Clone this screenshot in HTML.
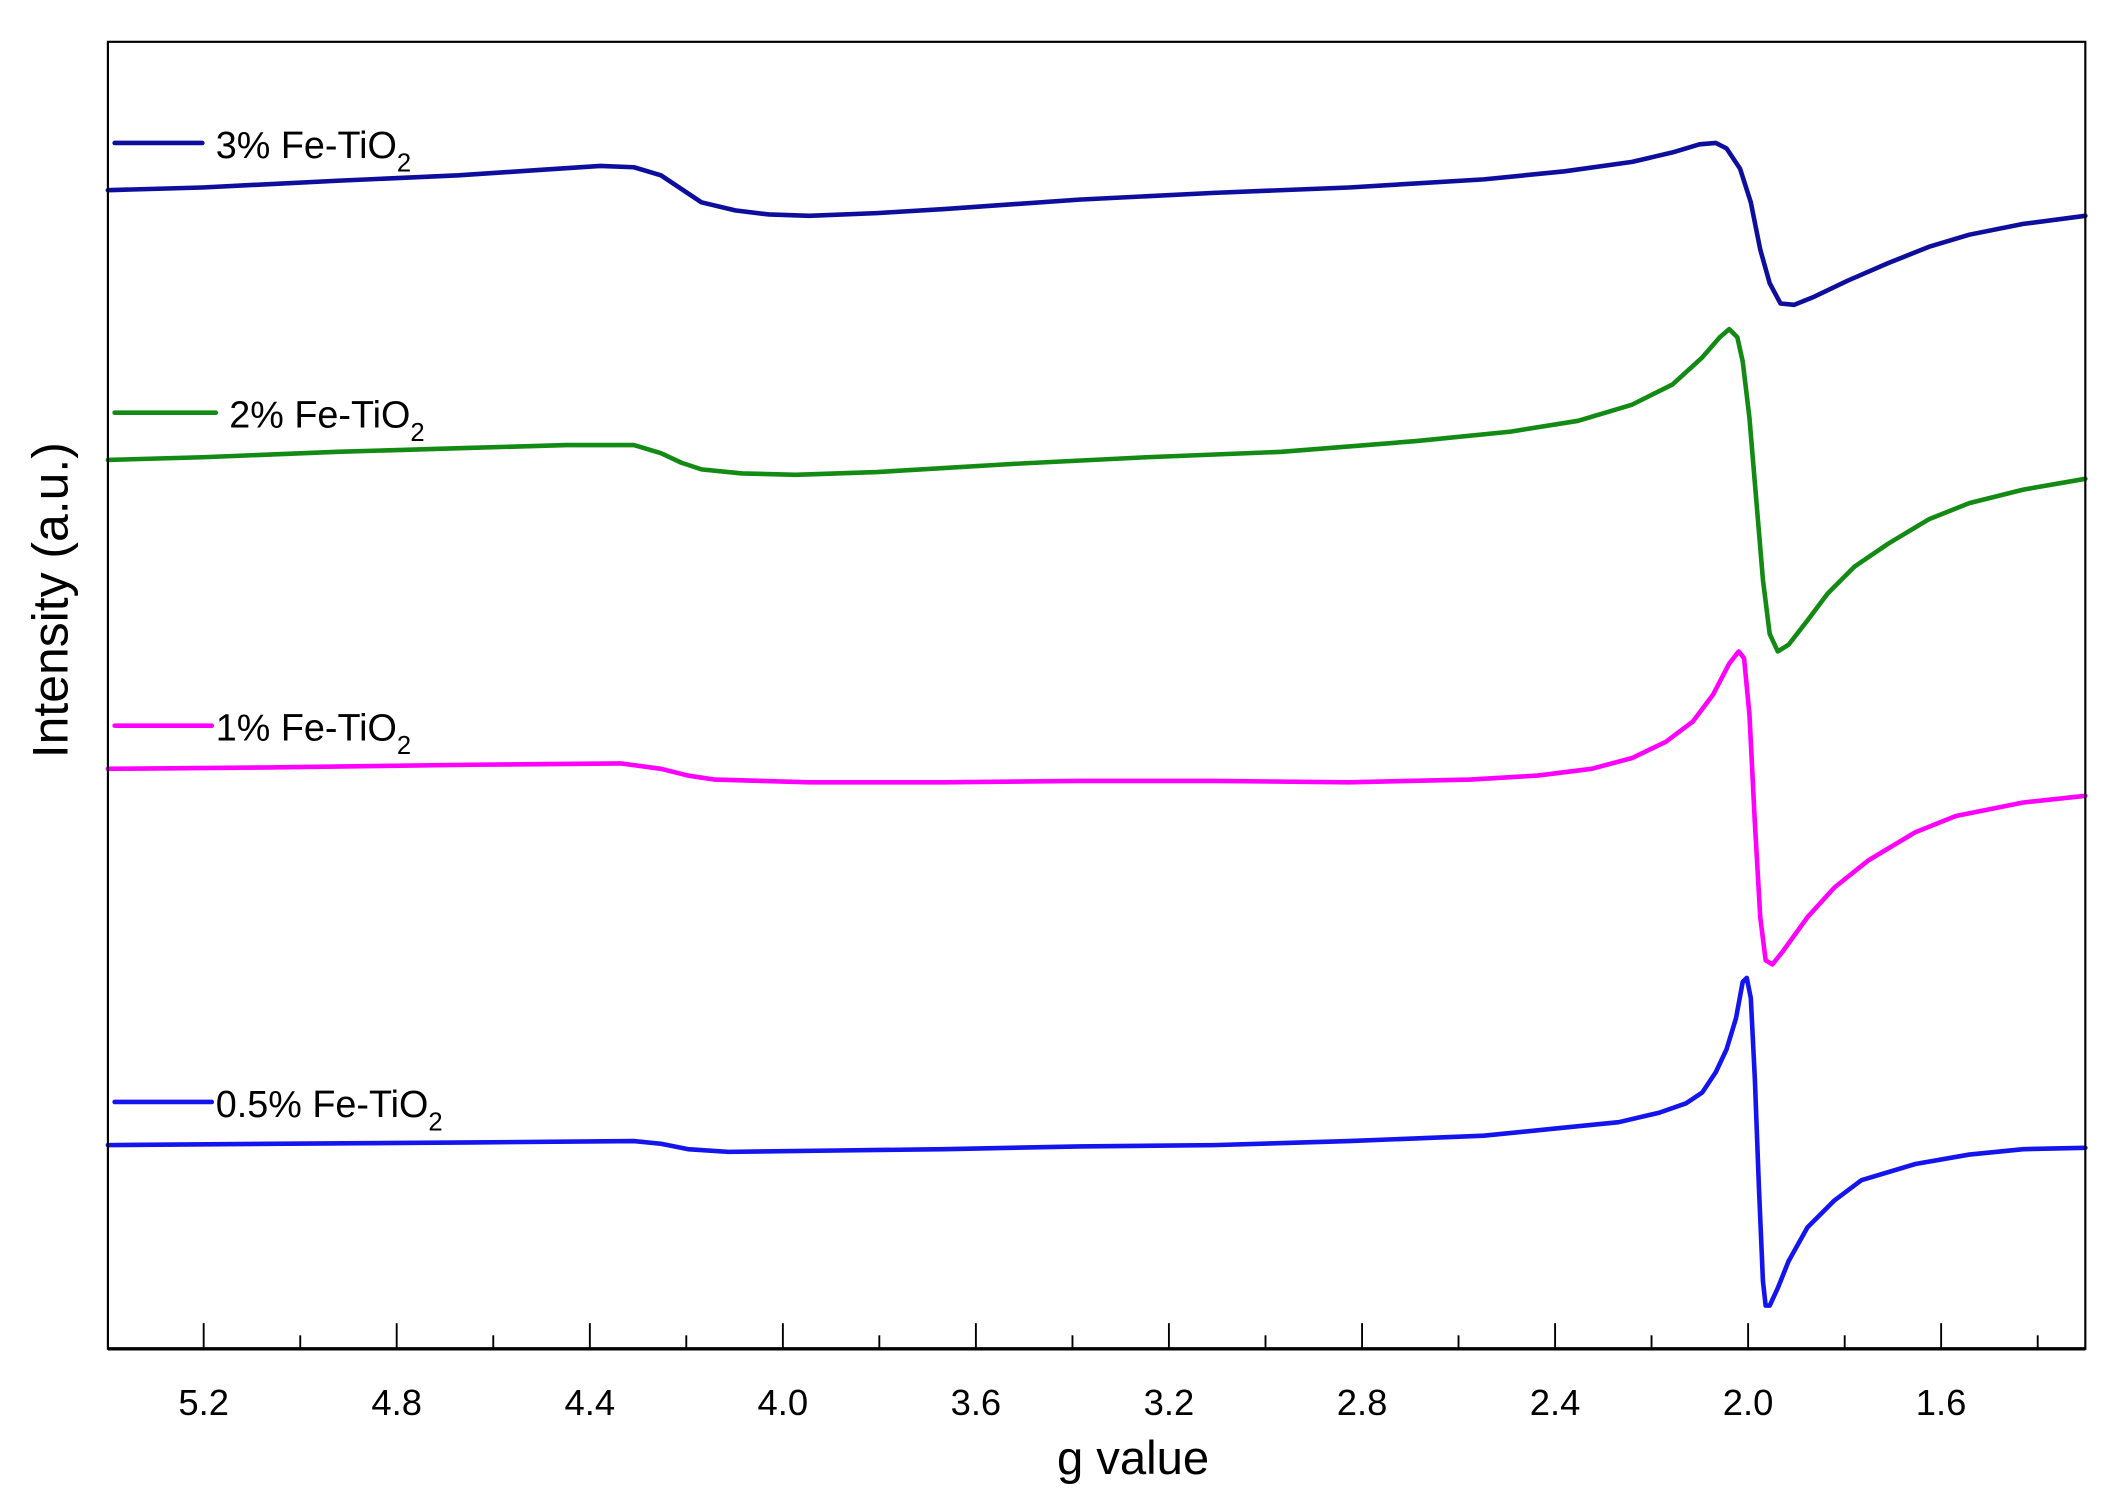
<!DOCTYPE html>
<html><head><meta charset="utf-8"><style>
html,body{margin:0;padding:0;background:#fff;}
svg{display:block;}
text{font-family:"Liberation Sans",sans-serif;fill:#000;}
</style></head><body>
<svg width="2115" height="1507" viewBox="0 0 1568 1117.3" preserveAspectRatio="none" xmlns="http://www.w3.org/2000/svg">
<rect x="0" y="0" width="1568" height="1118" fill="#fff"/>
<g fill="none" stroke-linejoin="round" stroke-linecap="round">
<polyline stroke="#0e0e9e" stroke-width="3.4" points="80,141 150,139 250,134 340,130 400,126 445,123 470,124 490,130 505,140 520,150 545,156 570,159 600,160 650,158 700,155 800,148 900,143 1000,139 1100,133 1160,127 1210,120 1240,113 1260,107 1272,106 1280,110 1290,125 1298,150 1305,185 1312,210 1320,225 1330,226 1345,220 1370,208 1400,195 1430,183 1460,174 1500,166 1546,160"/>
<polyline stroke="#138a13" stroke-width="3.4" points="80,341 150,339 250,335 350,332 420,330 470,330 490,336 505,343 520,348 550,351 590,352 650,350 750,344 850,339 950,335 1050,327 1120,320 1170,312 1210,300 1240,285 1262,265 1275,250 1282,244 1288,250 1292,268 1297,310 1302,370 1307,430 1312,470 1318,483 1326,478 1340,460 1355,440 1375,420 1400,403 1430,385 1460,373 1500,363 1546,355"/>
<polyline stroke="#ff00ff" stroke-width="3.4" points="80,570 200,569 350,567 460,566 490,570 510,575 530,578 600,580 700,580 800,579 900,579 1000,580 1090,578 1140,575 1180,570 1210,562 1235,550 1255,535 1270,515 1282,492 1289,483 1293,488 1297,530 1301,610 1305,680 1309,712 1314,715 1322,705 1340,680 1360,658 1385,638 1420,617 1450,605 1500,595 1546,590"/>
<polyline stroke="#1414ee" stroke-width="3.4" points="80,849 200,848 350,847 470,846 490,848 510,852 540,854 620,853 700,852 800,850 900,849 1000,846 1100,842 1160,836 1200,832 1230,825 1250,818 1262,810 1272,795 1280,778 1287,755 1292,728 1295,725 1298,740 1301,800 1304,880 1307,950 1309,968 1312,968 1318,955 1326,935 1340,910 1360,890 1380,875 1420,863 1460,856 1500,852 1546,851"/>
</g>
<g stroke-width="3.4" stroke-linecap="round">
<line x1="85" y1="106" x2="150" y2="106" stroke="#0e0e9e"/>
<line x1="85" y1="306" x2="160" y2="306" stroke="#138a13"/>
<line x1="85" y1="538" x2="157" y2="538" stroke="#ff00ff"/>
<line x1="85" y1="817" x2="157" y2="817" stroke="#1414ee"/>
</g>
<g font-size="28">
<text x="160" y="117">3% Fe-TiO<tspan font-size="19" dy="10">2</tspan></text>
<text x="170" y="317">2% Fe-TiO<tspan font-size="19" dy="10">2</tspan></text>
<text x="160" y="549">1% Fe-TiO<tspan font-size="19" dy="10">2</tspan></text>
<text x="160" y="828">0.5% Fe-TiO<tspan font-size="19" dy="10">2</tspan></text>
</g>
<rect x="80" y="31" width="1466" height="969" fill="none" stroke="#000" stroke-width="1.6"/>
<line x1="80" y1="1000" x2="1546" y2="1000" stroke="#000" stroke-width="2.5"/>
<g stroke="#000" stroke-width="1.4">
<line x1="151" y1="1000" x2="151" y2="981"/><line x1="222.6" y1="1000" x2="222.6" y2="990"/>
<line x1="294.1" y1="1000" x2="294.1" y2="981"/><line x1="365.7" y1="1000" x2="365.7" y2="990"/>
<line x1="437.3" y1="1000" x2="437.3" y2="981"/><line x1="508.8" y1="1000" x2="508.8" y2="990"/>
<line x1="580.4" y1="1000" x2="580.4" y2="981"/><line x1="651.9" y1="1000" x2="651.9" y2="990"/>
<line x1="723.5" y1="1000" x2="723.5" y2="981"/><line x1="795.1" y1="1000" x2="795.1" y2="990"/>
<line x1="866.6" y1="1000" x2="866.6" y2="981"/><line x1="938.2" y1="1000" x2="938.2" y2="990"/>
<line x1="1009.8" y1="1000" x2="1009.8" y2="981"/><line x1="1081.3" y1="1000" x2="1081.3" y2="990"/>
<line x1="1152.9" y1="1000" x2="1152.9" y2="981"/><line x1="1224.4" y1="1000" x2="1224.4" y2="990"/>
<line x1="1296" y1="1000" x2="1296" y2="981"/><line x1="1367.6" y1="1000" x2="1367.6" y2="990"/>
<line x1="1439.1" y1="1000" x2="1439.1" y2="981"/><line x1="1510.7" y1="1000" x2="1510.7" y2="990"/>
</g>
<g font-size="27" text-anchor="middle">
<text x="151" y="1049">5.2</text><text x="294.1" y="1049">4.8</text><text x="437.3" y="1049">4.4</text>
<text x="580.4" y="1049">4.0</text><text x="723.5" y="1049">3.6</text><text x="866.6" y="1049">3.2</text>
<text x="1009.8" y="1049">2.8</text><text x="1152.9" y="1049">2.4</text><text x="1296" y="1049">2.0</text>
<text x="1439.1" y="1049">1.6</text>
</g>
<text x="840" y="1093" font-size="35" text-anchor="middle">g value</text>
<text transform="translate(50,445) rotate(-90)" font-size="37" text-anchor="middle">Intensity (a.u.)</text>
</svg>
</body></html>
